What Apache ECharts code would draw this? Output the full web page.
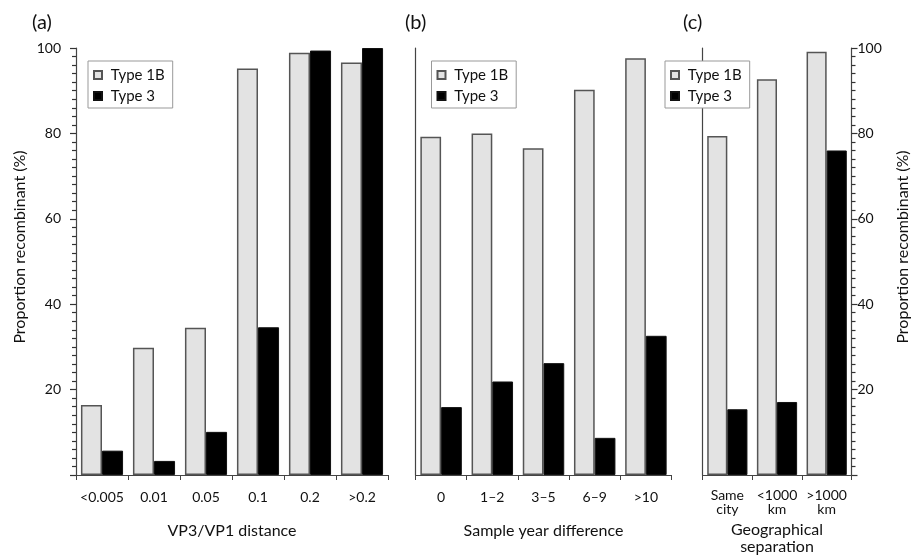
<!DOCTYPE html>
<html><head><meta charset="utf-8">
<script src="https://cdn.jsdelivr.net/npm/echarts@6/dist/echarts.min.js"></script>
<style>html,body{margin:0;padding:0;background:#fff}#c{width:913px;height:555px}</style>
</head><body><div id="c"></div>
<script>
const seriesNames = ['Type 1B', 'Type 3'];
const catsA = ['<0.005', '0.01', '0.05', '0.1', '0.2', '>0.2'];
const type1bA = [16.4, 29.8, 34.5, 95.2, 98.9, 96.6];
const type3A = [5.7, 3.3, 10.1, 34.6, 99.4, 100];
const catsB = ['0', '1–2', '3–5', '6–9', '>10'];
const type1bB = [79.2, 80.0, 76.5, 90.2, 97.6];
const type3B = [15.9, 21.9, 26.2, 8.7, 32.6];
const catsC = ['Same\ncity', '<1000\nkm', '>1000\nkm'];
const type1bC = [79.4, 92.7, 99.1];
const type3C = [15.4, 17.1, 76.0];
const panelLabels = ['(a)', '(b)', '(c)'];
const xTitles = ['VP3/VP1 distance', 'Sample year difference', 'Geographical\nseparation'];
const yTitle = 'Proportion recombinant (%)';
const yMin = 0, yMax = 100, yStep = 20;

const FONT = 'Lato';
const AX = '#444';
const TXT = '#111';
const chart = echarts.init(document.getElementById('c'), null, {renderer: 'canvas'});

const grids = [
  {left: 76, top: 48, width: 312, height: 427, outerBoundsMode: 'none', containLabel: false},
  {left: 415.5, top: 48, width: 256, height: 427, outerBoundsMode: 'none', containLabel: false},
  {left: 702.5, top: 48, width: 149, height: 427, outerBoundsMode: 'none', containLabel: false}
];
const cats = [catsA, catsB, catsC];
const d1 = [type1bA, type1bB, type1bC];
const d3 = [type3A, type3B, type3C];

const xAxes = cats.map((c, i) => ({
  type: 'category', gridIndex: i, data: c,
  axisLine: {lineStyle: {color: AX, width: 1.2}},
  axisTick: {show: true, length: 5, lineStyle: {color: AX}},
  axisLabel: {color: TXT, fontSize: 14, fontFamily: FONT, margin: i === 2 ? 13 : 15, lineHeight: 14, interval: 0},
  name: xTitles[i], nameLocation: 'middle', nameGap: i === 2 ? 46 : 47,
  nameTextStyle: {color: TXT, fontSize: 16, fontFamily: FONT, lineHeight: 17}
}));

const fullY = (gi, pos) => ({
  type: 'value', gridIndex: gi, min: yMin, max: yMax, interval: yStep, position: pos,
  splitLine: {show: false},
  minorSplitLine: {show: false},
  axisLine: {show: true, lineStyle: {color: AX, width: 1.2}},
  axisTick: {show: true, length: 6, lineStyle: {color: '#333', width: 1.2}},
  minorTick: {show: true, splitNumber: 10, length: 4, lineStyle: {color: '#333', width: 1.2}},
  axisLabel: {color: TXT, fontSize: 14, fontFamily: FONT, margin: pos === 'right' ? 6 : 15,
    formatter: v => v === 0 ? '' : String(v)}
});
const plainY = (gi) => ({
  type: 'value', gridIndex: gi, min: yMin, max: yMax, interval: yStep, position: 'left',
  splitLine: {show: false},
  axisLine: {show: true, lineStyle: {color: AX, width: 1.2}},
  axisTick: {show: false}, axisLabel: {show: false}
});
const yAxes = [fullY(0, 'left'), plainY(1), plainY(2), fullY(2, 'right')];
const yIdx = [0, 1, 3];

const series = [];
for (let i = 0; i < 3; i++) {
  series.push({
    name: seriesNames[0], type: 'bar', xAxisIndex: i, yAxisIndex: yIdx[i], data: d1[i],
    barCategoryGap: '19%', barGap: '0%',
    itemStyle: {color: '#e3e3e3', borderColor: '#555', borderWidth: 1.5}
  });
  series.push({
    name: seriesNames[1], type: 'bar', xAxisIndex: i, yAxisIndex: yIdx[i], data: d3[i],
    barCategoryGap: '19%', barGap: '0%',
    itemStyle: {color: '#000', borderColor: '#111', borderWidth: 1}
  });
}

const legendPos = [88, 431.5, 665];
const legends = legendPos.map(x => ({
  data: seriesNames, orient: 'vertical', left: x, top: 61,
  backgroundColor: '#fff', borderColor: '#999', borderWidth: 1,
  padding: [6, 8, 4, 5], itemGap: 5, itemWidth: 8, itemHeight: 8, icon: 'rect',
  selectedMode: false,
  formatter: n => ' ' + n,
  textStyle: {color: TXT, fontSize: 15, fontFamily: FONT, lineHeight: 16}
}));

const labelX = [32, 405, 683];
const graphic = labelX.map((x, i) => ({
  type: 'text', left: x, top: 13,
  style: {text: panelLabels[i], fill: TXT, font: '20px ' + FONT}
}));
graphic.push({type: 'text', x: 20, y: 247, rotation: Math.PI / 2,
  style: {text: yTitle, fill: TXT, font: '16px ' + FONT, textAlign: 'center', textVerticalAlign: 'middle'}});
graphic.push({type: 'text', x: 903, y: 247, rotation: Math.PI / 2,
  style: {text: yTitle, fill: TXT, font: '16px ' + FONT, textAlign: 'center', textVerticalAlign: 'middle'}});

chart.setOption({
  animation: false,
  backgroundColor: '#fff',
  textStyle: {fontFamily: FONT},
  grid: grids,
  xAxis: xAxes,
  yAxis: yAxes,
  legend: legends,
  series: series,
  graphic: graphic
});
</script></body></html>
